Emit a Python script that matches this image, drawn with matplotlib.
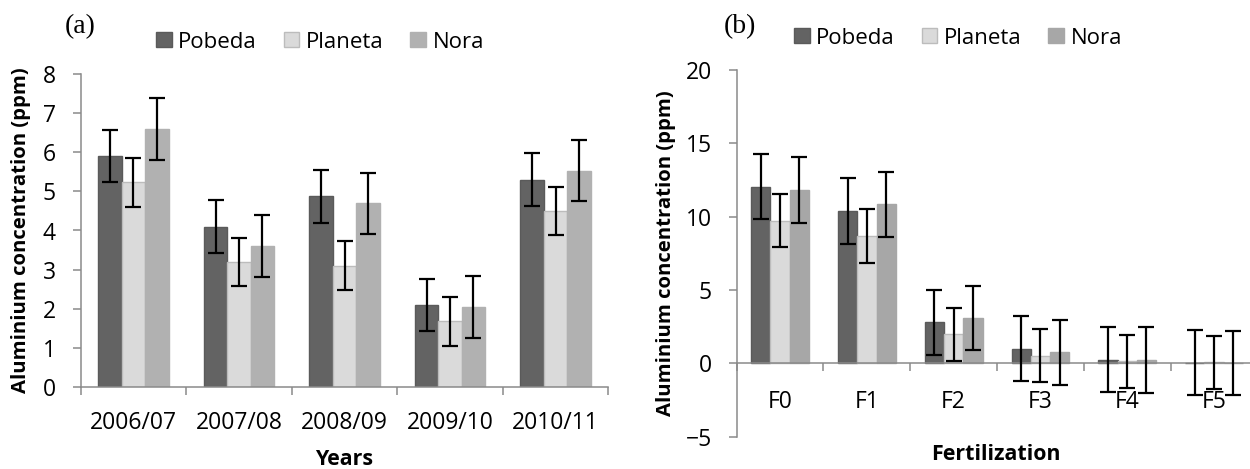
import numpy as np
import matplotlib.pyplot as plt

plt.rcParams['font.family'] = ['Open Sans', 'DejaVu Sans']

years = ['2006/07', '2007/08', '2008/09', '2009/10', '2010/11']
a_pobeda = [5.9, 4.1, 4.87, 2.1, 5.3]
a_pobeda_err = [0.66, 0.67, 0.68, 0.67, 0.67]
a_planeta = [5.23, 3.2, 3.1, 1.68, 4.5]
a_planeta_err = [0.62, 0.62, 0.62, 0.62, 0.61]
a_nora = [6.6, 3.6, 4.7, 2.05, 5.53]
a_nora_err = [0.79, 0.79, 0.78, 0.79, 0.78]

fert = ['F0', 'F1', 'F2', 'F3', 'F4', 'F5']
b_pobeda = [12.04, 10.38, 2.8, 1.0, 0.25, 0.05]
b_pobeda_err = [2.23, 2.23, 2.2, 2.2, 2.2, 2.2]
b_planeta = [9.72, 8.68, 1.98, 0.52, 0.14, 0.07]
b_planeta_err = [1.82, 1.84, 1.82, 1.82, 1.8, 1.8]
b_nora = [11.82, 10.84, 3.07, 0.75, 0.25, 0.03]
b_nora_err = [2.24, 2.22, 2.18, 2.2, 2.24, 2.2]

names = ['Pobeda', 'Planeta', 'Nora']
axis_col = '#8a8a8a'
fs = 16.5
ylab_fs = 14.6
xlab_fs = 15.4

fig = plt.figure(figsize=(12.5, 4.69), dpi=100)


def panel(ax, cats, series, errs, colors, pad):
    edges = ['#5a5a5a', '#bcbcbc', colors[2]]
    x = np.arange(len(cats))
    w = 0.222
    bars = []
    for k, (vals, err) in enumerate(zip(series, errs)):
        b = ax.bar(x + (k - 1) * w, vals, w, color=colors[k], edgecolor=edges[k],
                   linewidth=1, label=names[k], zorder=2)
        ax.errorbar(x + (k - 1) * w, vals, yerr=err, fmt='none', ecolor='black',
                    elinewidth=1.6, capsize=5.5, capthick=1.6, zorder=3)
        bars.append(b)
    ax.set_xticks(x)
    ax.set_xticklabels(cats)
    ax.set_xticks(np.arange(len(cats) + 1) - 0.5, minor=True)
    ax.tick_params(axis='x', which='major', length=0, pad=pad, labelsize=fs)
    ax.tick_params(axis='x', which='minor', length=6, width=1.1, color=axis_col, direction='out')
    ax.tick_params(axis='y', length=6, width=1.1, color=axis_col, labelsize=fs, pad=12)
    for s in ['top', 'right']:
        ax.spines[s].set_visible(False)
    for s in ['left', 'bottom']:
        ax.spines[s].set_color(axis_col)
        ax.spines[s].set_linewidth(1.1)
    ax.set_ylabel('Aluminium concentration (ppm)', fontsize=ylab_fs, fontweight='bold')
    return bars


def legend(bars, cx, cy):
    fig.legend(handles=bars, loc='center', bbox_to_anchor=(cx / 1250, 1 - cy / 469), ncol=3,
               frameon=False, fontsize=16, handlelength=0.7, handleheight=0.7,
               handletextpad=0.3, columnspacing=1.2)


# (a)
ax1 = fig.add_axes([80.7 / 1250, 82 / 469, 527.6 / 1250, 313 / 469])
bars = panel(ax1, years, [a_pobeda, a_planeta, a_nora], [a_pobeda_err, a_planeta_err, a_nora_err],
             ['#636363', '#dadada', '#b1b1b1'], 17)
ax1.set_xlim(-0.5, 4.5)
ax1.set_ylim(0, 8)
ax1.set_yticks(range(0, 9))
ax1.set_xlabel('Years', fontsize=xlab_fs, fontweight='bold', va='top')
ax1.xaxis.set_label_coords(0.5, -0.197)
ax1.yaxis.set_label_coords(-0.094, 0.5)
fig.text(80 / 1250, 1 - 27 / 469, '(a)', fontsize=20, family='Liberation Serif', ha='center', va='center')
legend(bars, 320, 42)

# (b)
ax2 = fig.add_axes([736.7 / 1250, 32.3 / 469, 513.3 / 1250, 366.7 / 469])
ax2.spines['bottom'].set_position(('data', 0))
bars = panel(ax2, fert, [b_pobeda, b_planeta, b_nora], [b_pobeda_err, b_planeta_err, b_nora_err],
             ['#636363', '#dadada', '#a7a7a7'], 19)
ax2.set_xlim(-0.5, 5.415)
ax2.set_ylim(-5, 20)
ax2.set_yticks(range(-5, 21, 5))
ax2.set_xlabel('Fertilization', fontsize=xlab_fs, fontweight='bold', va='top')
ax2.xaxis.set_label_coords(0.505, -0.02)
ax2.yaxis.set_label_coords(-0.118, 0.5)
fig.text(740 / 1250, 1 - 27 / 469, '(b)', fontsize=20, family='Liberation Serif', ha='center', va='center')
legend(bars, 958, 38)

fig.savefig('out.png', dpi=100)
